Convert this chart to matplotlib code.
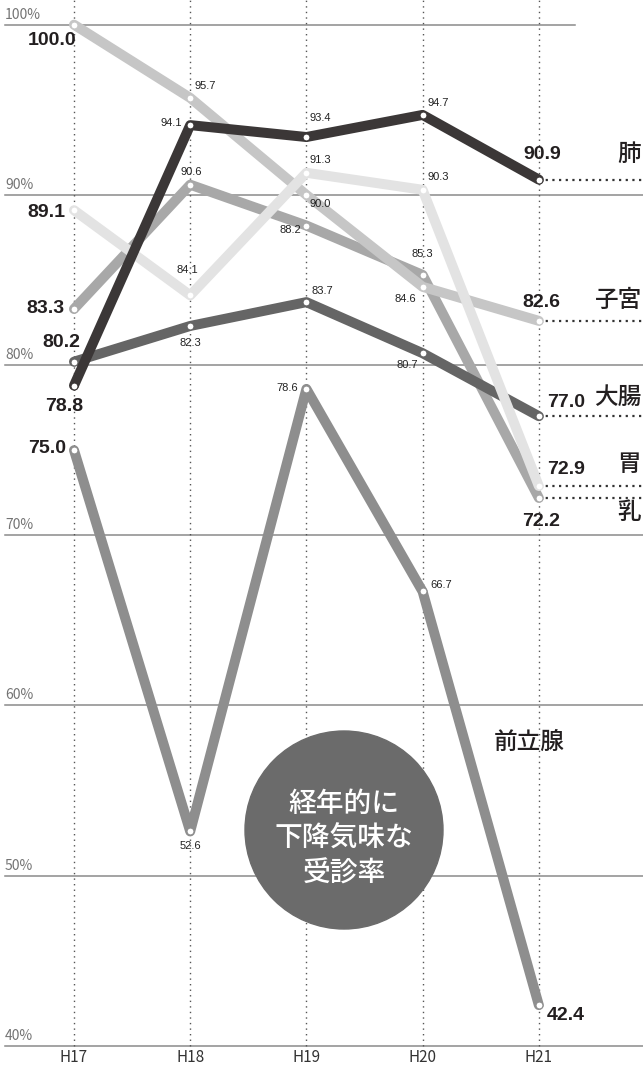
import matplotlib
matplotlib.use("Agg")
import matplotlib.pyplot as plt
from matplotlib import font_manager
from matplotlib.patches import Ellipse

# data
years = ["H17", "H18", "H19", "H20", "H21"]
lung = [78.8, 94.1, 93.4, 94.7, 90.9]
uterus = [100.0, 95.7, 90.0, 84.6, 82.6]
colon = [80.2, 82.3, 83.7, 80.7, 77.0]
stomach = [89.1, 84.1, 91.3, 90.3, 72.9]
breast = [83.3, 90.6, 88.2, 85.3, 72.2]
prostate = [75.0, 52.6, 78.6, 66.7, 42.4]
yticks = [40, 50, 60, 70, 80, 90, 100]
note = ["経年的に", "下降気味な", "受診率"]

names = {f.name for f in font_manager.fontManager.ttflist}
NUM = "Liberation Sans Narrow" if "Liberation Sans Narrow" in names else "Liberation Sans"
JP = "Noto Sans CJK JP"

# pixel scale: 116.2 px per year, 17.02 px per percent
fig = plt.figure(figsize=(6.43, 10.68), dpi=100)
ax = fig.add_axes([0, 0, 1, 1])
ax.set_xlim(-74 / 116.2, (643 - 74) / 116.2)
ax.set_ylim(40 - 22.1 / 17.02, 100 + 24.7 / 17.02)
ax.axis("off")
x = list(range(len(years)))
xmax = ax.get_xlim()[1]

# grid
for v in yticks:
    ax.axhline(v, xmin=5 / 643, xmax=575 / 643 if v == 100 else 1.0,
               color="#8a8a8a", lw=1.1, zorder=1)
    ax.annotate(f"{v}%", (0, v), xycoords=("axes fraction", "data"),
                xytext=(5, 3), textcoords="offset pixels", ha="left", va="bottom",
                fontsize=10, color="#747474", family=JP)
for i in x:
    ax.plot([i, i], [40, ax.get_ylim()[1]], color="#555555", lw=1.0,
            linestyle=(0, (1, 3)), zorder=1)
    ax.text(i, 39.3, years[i], ha="center", va="center", fontsize=11,
            color="#333333", family=JP)

# series: name, values, color, small-label offsets (dx, dy, ha) for H18..H20,
# end labels (dx, dy, ha) for H17 / H21, category label offset from H21 point
series = [
    ("前立腺", prostate, "#8e8e8e",
     [(0, -15, "center"), (-8, 1, "right"), (8, 6, "left")],
     (-8, 2, "right"), (8, -10, "left"), (-10, 263, "center"), False),
    ("乳", breast, "#a8a8a8",
     [(1, 13, "center"), (-5, -4, "right"), (0, 21, "center")],
     (-9, 0, "right"), (2, -24, "center"), (102, -15, "right"), True),
    ("大腸", colon, "#656565",
     [(0, -17, "center"), (5, 11, "left"), (-5, -12, "right")],
     (6, 19, "right"), (8, 14, "left"), (103, 19, "right"), True),
    ("子宮", uterus, "#c6c6c6",
     [(4, 12, "left"), (3, -9, "left"), (-6, -12, "right")],
     (2, -16, "right"), (3, 18, "center"), (103, 20, "right"), True),
    ("胃", stomach, "#e3e3e3",
     [(-3, 25, "center"), (3, 13, "left"), (5, 13, "left")],
     (-9, -2, "right"), (8, 16, "left"), (102, 21, "right"), True),
    ("肺", lung, "#3b3737",
     [(-8, 2, "right"), (3, 19, "left"), (5, 12, "left")],
     (-10, -21, "center"), (3, 25, "center"), (102, 25, "right"), True),
]

for z, (name, vals, col, mids, first, last, cat, leader) in enumerate(series):
    zo = 3 + z
    if leader:
        ax.plot([x[-1], xmax], [vals[-1], vals[-1]], color="#333333", lw=1.6,
                linestyle=(0, (1, 2)), zorder=2)
    ax.plot(x, vals, color=col, lw=7.2, solid_capstyle="round",
            solid_joinstyle="round", zorder=zo)
    ax.plot(x, vals, "o", ms=5, mfc="white", mec=col, mew=0.8, zorder=zo + 0.5)
    for i, (dx, dy, ha) in zip(x[1:-1], mids):
        ax.annotate(f"{vals[i]:.1f}", (i, vals[i]), xytext=(dx, dy),
                    textcoords="offset pixels", ha=ha, va="center",
                    fontsize=8, color="#222222", family=NUM, zorder=20)
    for i, (dx, dy, ha) in ((x[0], first), (x[-1], last)):
        ax.annotate(f"{vals[i]:.1f}", (i, vals[i]), xytext=(dx, dy),
                    textcoords="offset pixels", ha=ha, va="center",
                    fontsize=14, fontweight="bold", color="#231f20",
                    family=NUM, zorder=20)
    ax.annotate(name, (x[-1], vals[-1]), xytext=(cat[0], cat[1]),
                textcoords="offset pixels", ha=cat[2], va="center",
                fontsize=17, color="#231f20", family=JP, fontweight="medium",
                zorder=20)

# note bubble
cx, cy = (344 - 74) / 116.2, 100 - (830 - 24.7) / 17.02
ax.add_patch(Ellipse((cx, cy), 198 / 116.2, 198 / 17.02, color="#6b6b6b", zorder=15))
for k, line in enumerate(note):
    ax.annotate(line, (cx, cy), xytext=(0, 27 - 35 * k), textcoords="offset pixels",
                ha="center", va="center", fontsize=20, color="white",
                family=JP, fontweight="medium", zorder=16)

fig.savefig("out.png", dpi=100)
